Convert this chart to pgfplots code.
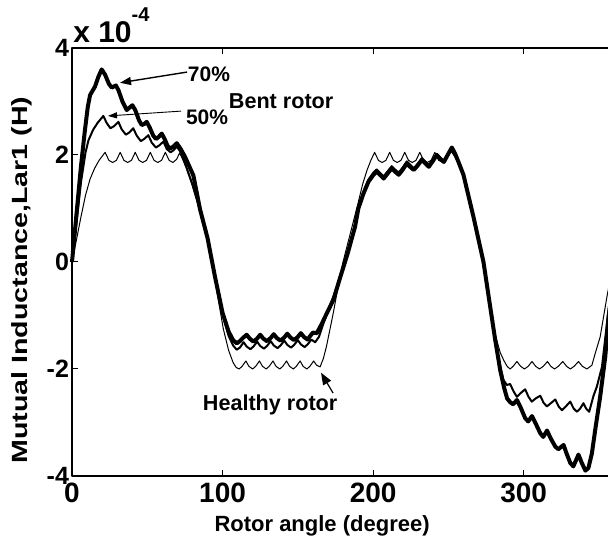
\documentclass[border=0pt]{standalone}
\usepackage{pgfplots}
\pgfplotsset{compat=1.18}
\usepackage{fontspec}
\setmainfont{Liberation Sans}
\usetikzlibrary{arrows.meta,calc}
\begin{document}
\begin{tikzpicture}
\begin{axis}[
  scale only axis, width=271pt, height=214pt,
  xmin=0, xmax=360, ymin=-4, ymax=4,
  xtick={0,100,200,300}, ytick={-4,-2,0,2,4},
  tick align=inside, major tick length=3pt,
  /pgf/number format/assume math mode=true,
  xticklabel style={font=\fontsize{14}{14}\selectfont\bfseries},
  yticklabel style={font=\fontsize{12.5}{12.5}\selectfont\bfseries, xshift=2pt},
  axis line style={line width=0.8pt},
  tick style={line width=0.5pt, black},
  clip=false,
  line join=round,
]
\coordinate (bl) at (rel axis cs:0,0);
\coordinate (tr) at (rel axis cs:1,1);
% Healthy rotor
\addplot[black, line width=0.5pt] coordinates {
(0,0) (3,0.42) (6,0.85) (9,1.25) (12,1.55) (15,1.75) (18,1.9) (22,2.05) (24.5,1.9) (27,1.86) (29.5,1.9) (32,2.05) (34.5,1.9) (37,1.86) (39.5,1.9) (42,2.05) (44.5,1.9) (47,1.86) (49.5,1.9) (52,2.05) (54.5,1.9) (57,1.86) (59.5,1.9) (62,2.05) (64.5,1.9) (67,1.86) (69.5,1.92) (71.5,2.04) (73.5,1.92) (76,1.75) (80,1.42) (85,0.95) (90,0.38) (95,-0.35) (100.5,-1.25) (104,-1.65) (107,-1.88)
(109,-1.97) (111,-2.0) (113,-1.95) (115.5,-1.85) (117.5,-1.95) (120,-2.0) (122,-1.95) (124.5,-1.85) (126.5,-1.95) (129,-2.0) (131,-1.95) (133.5,-1.85) (135.5,-1.95) (138,-2.0) (140,-1.95) (142.5,-1.85) (144.5,-1.95) (147,-2.0) (149,-1.95) (151.5,-1.85) (153.5,-1.95) (156,-2.0) (158,-1.95) (160.5,-1.85) (162.5,-1.93) (164.8,-1.96) (167,-1.8) (169,-1.58) (173.5,-0.96) (177,-0.42) (180,0) (185,0.55) (190,1.1) (193,1.45) (196,1.72) (198.5,1.9)
(201,2.05) (203.5,1.9) (206,1.86) (208.5,1.9) (211,2.05) (213.5,1.9) (216,1.86) (218.5,1.9) (221,2.05) (223.5,1.9) (226,1.86) (228.5,1.9) (231,2.05) (233.5,1.9) (236,1.86) (238.5,1.9) (241,2.05) (243.5,1.9) (246,1.87) (248.5,1.93) (251.5,2.08) (254,1.98) (256.7,1.85) (260,1.6) (266.6,0.82) (273.3,-0.02) (277,-0.62) (281,-1.35) (284.5,-1.7) (287,-1.85) (289,-1.95)
(291,-2.0) (293,-1.95) (295.5,-1.86) (298,-1.95) (300.5,-2.0) (303,-1.95) (305.5,-1.86) (308,-1.95) (310.5,-2.0) (313,-1.95) (315.8,-1.86) (318,-1.95) (320.5,-2.0) (323,-1.95) (326,-1.86) (328.5,-1.95) (331,-2.0) (333.5,-1.95) (336.4,-1.86) (339,-1.95) (342,-2.0) (345.3,-1.93) (347.5,-1.71) (350.8,-1.4) (355.3,-0.65) (360,0.05)
};
% 50% bent rotor
\addplot[black, line width=1pt] coordinates {
(0,0) (3,0.75) (6,1.5) (9,2.05) (11,2.28) (14,2.47) (17,2.6) (20.8,2.73) (23,2.6) (25.5,2.5) (28,2.54) (30.8,2.62) (33,2.48) (35.8,2.38) (38,2.42) (40.7,2.5) (43,2.36) (45.7,2.26) (48,2.3) (50.7,2.37) (53,2.23) (55.7,2.14) (58,2.18) (60.7,2.25) (63,2.11) (65.5,2.05) (67.5,2.09) (69.6,2.16) (72,2.06) (75,1.85) (80,1.45) (85,0.97) (90,0.42) (95,-0.3) (100,-0.98) (104,-1.38) (107,-1.56)
(109.4,-1.64) (111.5,-1.6) (114,-1.5) (116,-1.58) (118.5,-1.63) (120.5,-1.58) (123,-1.49) (125,-1.57) (127.5,-1.62) (129.5,-1.57) (132,-1.48) (134,-1.56) (136.5,-1.61) (138.5,-1.56) (141,-1.47) (143,-1.55) (145.5,-1.6) (147.5,-1.55) (150,-1.46) (152,-1.54) (154.5,-1.59) (156.5,-1.54) (159,-1.45) (161.5,-1.5) (164,-1.4) (167,-1.15) (170,-0.9) (174,-0.62) (178,-0.28) (183,0.17) (188,0.68) (190.2,1.04) (193.6,1.31) (196.9,1.54) (200.2,1.67)
(202.4,1.73) (204.5,1.67) (207,1.6) (209.5,1.69) (212.4,1.79) (214.5,1.73) (217,1.67) (219.5,1.76) (222.4,1.88) (224.5,1.82) (227,1.75) (229.5,1.83) (232.4,1.94) (234.5,1.88) (237,1.81) (239.5,1.9) (242.3,2.02) (244.5,1.95) (247,1.89) (249.5,2.01) (252.3,2.13) (254.5,2.01) (256.7,1.86) (260,1.62) (266.6,0.84) (273.3,0.0) (276.6,-0.6) (281,-1.42) (284.4,-1.95) (286.5,-2.2)
(288.8,-2.3) (291,-2.28) (293.3,-2.42) (295.5,-2.52) (298,-2.45) (301,-2.38) (303.2,-2.52) (305.4,-2.61) (308,-2.55) (311,-2.5) (313.2,-2.63) (315.4,-2.7) (318,-2.64) (321,-2.57) (323.2,-2.7) (325.4,-2.77) (328,-2.7) (330.9,-2.61) (333.2,-2.74) (335.4,-2.8) (337.5,-2.74) (339.7,-2.64) (341.5,-2.74) (343.5,-2.8) (346.4,-2.5) (348.6,-2.33) (352,-1.96) (355.3,-1.15) (357,-0.75) (360,-0.1)
};
% 70% bent rotor
\addplot[black, line width=2pt] coordinates {
(0,0) (3,0.9) (6,1.8) (8.6,2.47) (10.5,2.9) (12,3.12) (15.3,3.28) (17.5,3.46) (19.7,3.6) (22,3.5) (24.5,3.33) (26.4,3.26) (29.2,3.3) (31,3.2) (33.5,3.0) (36.3,2.84) (38,2.88) (40.1,2.93) (42,2.84) (44.5,2.65) (46.3,2.56) (48,2.58) (49.6,2.62) (51.5,2.52) (54,2.36) (55.8,2.3) (57.7,2.34) (59.6,2.4) (61.5,2.3) (63.5,2.17) (65.1,2.12) (67.5,2.16) (69.6,2.22) (72,2.12) (75,1.97) (80.6,1.62) (85,0.99) (90,0.45) (95,-0.28) (100,-0.95) (104,-1.3) (107,-1.46)
(109.4,-1.52) (111.5,-1.48) (113.5,-1.42) (116,-1.36) (118,-1.43) (120.5,-1.49) (123,-1.43) (125,-1.36) (127,-1.43) (129.5,-1.48) (132,-1.42) (134,-1.35) (136,-1.42) (138.5,-1.47) (141,-1.41) (143,-1.34) (145,-1.41) (147.5,-1.46) (150,-1.4) (152,-1.33) (154,-1.4) (156.5,-1.45) (158,-1.39) (160,-1.32) (162.6,-1.33) (166,-1.15) (169.2,-0.96) (173.6,-0.71) (178,-0.3) (183,0.15) (188,0.66) (190.2,1.0) (193.6,1.28) (196.9,1.5) (200.2,1.63)
(202.4,1.69) (204.5,1.63) (207,1.56) (209.5,1.65) (212.4,1.75) (214.5,1.69) (217,1.63) (219.5,1.72) (222.4,1.84) (224.5,1.78) (227,1.72) (229.5,1.8) (232.4,1.91) (234.5,1.85) (237,1.78) (239.5,1.88) (242.3,2.0) (244.5,1.93) (247,1.87) (249.5,2.0) (252.3,2.14) (254.5,2.02) (256.7,1.87) (260,1.63) (266.6,0.85) (273.3,0.0) (276.6,-0.62) (281,-1.44) (284.4,-2.02) (287,-2.35) (289,-2.55)
(291,-2.62) (293,-2.66) (295.5,-2.58) (298,-2.72) (301,-2.92) (303,-2.98) (305.5,-2.88) (308,-3.02) (311,-3.2) (313,-3.27) (315.5,-3.15) (318,-3.3) (321,-3.45) (323,-3.5) (326.5,-3.42) (328.5,-3.58) (331,-3.76) (333,-3.82) (336.4,-3.6) (338.5,-3.75) (341,-3.9) (343,-3.85) (345.3,-3.58) (347.5,-3.14) (350.8,-2.52) (354.2,-1.77) (356.4,-1.02) (360,-0.3)
};
% annotations
\draw[-{Triangle[length=5.5pt,width=4pt]}, line width=0.7pt] (axis cs:76.4,3.55) -- (axis cs:31.9,3.35);
\draw[-{Triangle[length=4.5pt,width=3pt]}, line width=0.45pt] (axis cs:72.4,2.82) -- (axis cs:23.9,2.73);
\draw[-{Triangle[length=6pt,width=4.5pt]}, line width=0.6pt] (axis cs:173.4,-2.45) -- (axis cs:165.4,-2.07);
\node[font=\fontsize{10.5}{10.5}\selectfont\bfseries] at (axis cs:91,3.51) {70\%};
\node[font=\fontsize{10.5}{10.5}\selectfont\bfseries] at (axis cs:89.7,2.71) {50\%};
\node[font=\fontsize{10.8}{10.8}\selectfont\bfseries] at (axis cs:138.9,3.01) {Bent rotor};
\node[font=\fontsize{10.8}{10.8}\selectfont\bfseries] at (axis cs:131.6,-2.67) {Healthy rotor};
\node[font=\fontsize{15}{15}\selectfont\bfseries, anchor=base west, inner sep=0pt] at (axis cs:0.6,4.11) {x 10\raisebox{10.5pt}{\fontsize{10}{10}\selectfont -4}};
\node[font=\fontsize{11}{11}\selectfont\bfseries, anchor=center] at (axis cs:166.1,-4.93) {Rotor angle (degree)};
\node[font=\fontsize{11}{11}\selectfont\bfseries, rotate=90, anchor=center] at (axis cs:-33.6,-0.34) {\scalebox{1.3}[1]{Mutual Inductance,Lar1 (H)}};
\end{axis}
\pgfresetboundingbox
\useasboundingbox ($(bl)+(-36pt,-32pt)$) rectangle ($(tr)+(-3pt,24pt)$);
\end{tikzpicture}
\end{document}
